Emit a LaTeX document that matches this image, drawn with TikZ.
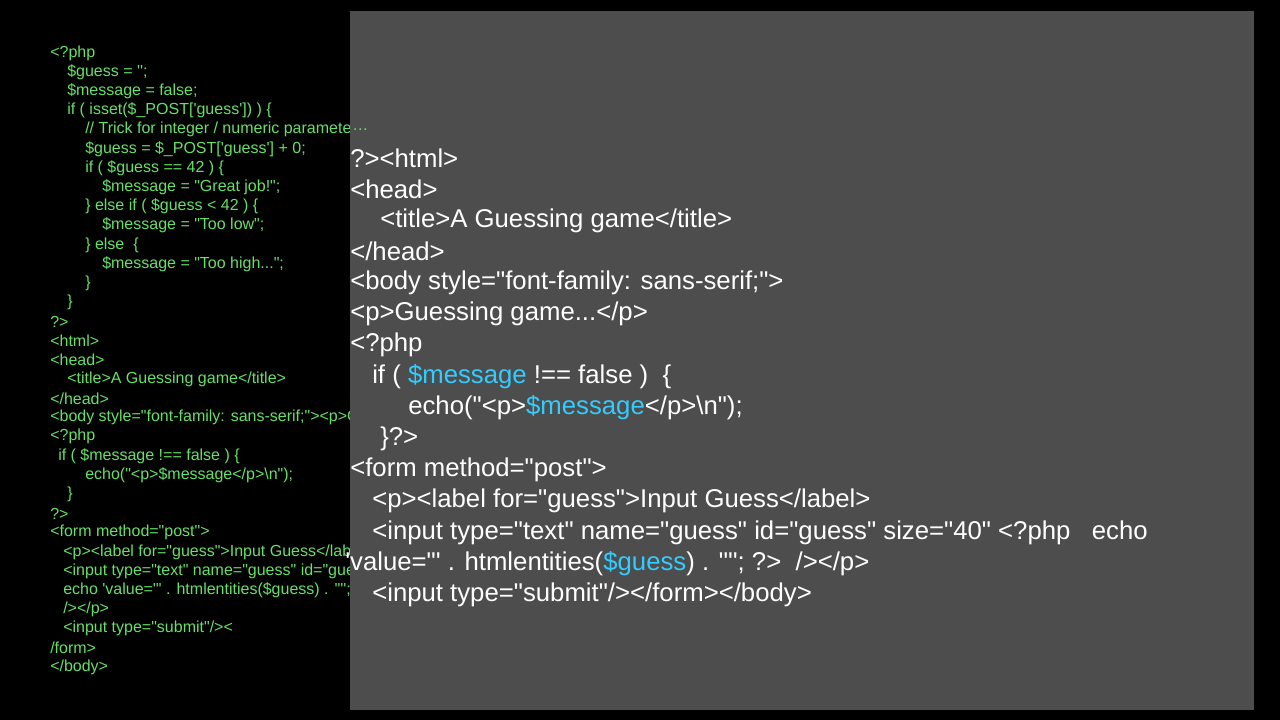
\documentclass[tikz,border=0pt]{standalone}
\usepackage{fontspec}
\setmainfont{Liberation Sans}
\newcommand\sq{\textquotesingle}
\newcommand\dq{\textquotedbl}
\definecolor{codegreen}{HTML}{66E066}
\definecolor{codecyan}{HTML}{33CCFF}
\definecolor{panel}{HTML}{4D4D4D}
\tikzset{lt/.style={anchor=west,inner sep=0pt,text=codegreen,font=\fontsize{12}{14}\selectfont},
rt/.style={anchor=west,inner sep=0pt,text=white,font=\fontsize{19.3}{22}\selectfont}}
\newcommand\cy[1]{\textcolor{codecyan}{#1}}
\begin{document}
\begin{tikzpicture}[x=0.75pt,y=-0.75pt]
\fill[black] (0,0) rectangle (1280,720);
\useasboundingbox (0,0) rectangle (1280,720);
\def\L#1#2#3{\node[lt] (l#1) at (#2,{53+(#1-1)*19.19}) {#3};}
\L{1}{50}{<?php}
\L{2}{67}{\$guess = \sq\sq;}
\L{3}{67}{\$message = false;}
\L{4}{67}{if ( isset(\$\_POST[\sq guess\sq]) ) \{}
\L{5}{85}{// Trick for integer / numeric parameters}
\L{6}{85}{\$guess = \$\_POST[\sq guess\sq] + 0;}
\L{7}{85}{if ( \$guess == 42 ) \{}
\L{8}{102}{\$message = \dq Great job!\dq;}
\L{9}{85}{\} else if ( \$guess < 42 ) \{}
\L{10}{102}{\$message = \dq Too low\dq;}
\L{11}{85}{\} else \ \{}
\L{12}{102}{\$message = \dq Too high...\dq;}
\L{13}{85}{\}}
\L{14}{67}{\}}
\L{15}{50}{?>}
\L{16}{50}{<html>}
\L{17}{50}{<head>}
\L{18}{67}{<title>A Guessing game</title>}
\L{19}{50}{</head>}
\L{20}{50}{<body style=\dq font-family: sans-serif;\dq><p>Guessing game...</p>}
\L{21}{50}{<?php}
\L{22}{58}{if ( \$message !== false ) \{}
\L{23}{85}{echo(\dq<p>\$message</p>\textbackslash n\dq);}
\L{24}{67}{\}}
\L{25}{50}{?>}
\L{26}{50}{<form method=\dq post\dq>}
\L{27}{63}{<p><label for=\dq guess\dq>Input Guess</label>}
\L{28}{63}{<input type=\dq text\dq\ name=\dq guess\dq\ id=\dq guess\dq\ size=\dq 40\dq\ <?php}
\L{29}{63}{echo \sq value=\dq\sq\ . htmlentities(\$guess) . \sq\dq\sq;}
\L{30}{63}{/></p>}
\L{31}{63}{<input type=\dq submit\dq/><}
\L{32}{50}{/form>}
\L{33}{50}{</body>}
\fill[panel] (350,11) rectangle (1254,710);
\node[anchor=west,inner sep=0pt,text=codegreen,font=\fontsize{12}{14}\selectfont] at (352,130) {…};
\def\R#1#2#3{\node[rt] (r#1) at (#2,{158+(#1-1)*31.2}) {#3};}
\R{1}{350}{?><html>}
\R{2}{350}{<head>}
\R{3}{380}{<title>A Guessing game</title>}
\R{4}{350}{</head>}
\R{5}{350}{<body style=\dq font-family: sans-serif;\dq>}
\R{6}{350}{<p>Guessing game...</p>}
\R{7}{350}{<?php}
\R{8}{372}{if ( \cy{\$message} !== false ) \ \{}
\R{9}{408}{echo(\dq<p>\cy{\$message}</p>\textbackslash n\dq);}
\R{10}{380}{\}?>}
\R{11}{350}{<form method=\dq post\dq>}
\R{12}{372}{<p><label for=\dq guess\dq>Input Guess</label>}
\R{13}{372}{<input type=\dq text\dq\ name=\dq guess\dq\ id=\dq guess\dq\ size=\dq 40\dq\ <?php \ \ echo}
\R{14}{345}{\sq value=\dq\sq\ . htmlentities(\cy{\$guess}) . \sq\dq\sq; ?> \ /></p>}
\R{15}{372}{<input type=\dq submit\dq/></form></body>}
\end{tikzpicture}
\end{document}
